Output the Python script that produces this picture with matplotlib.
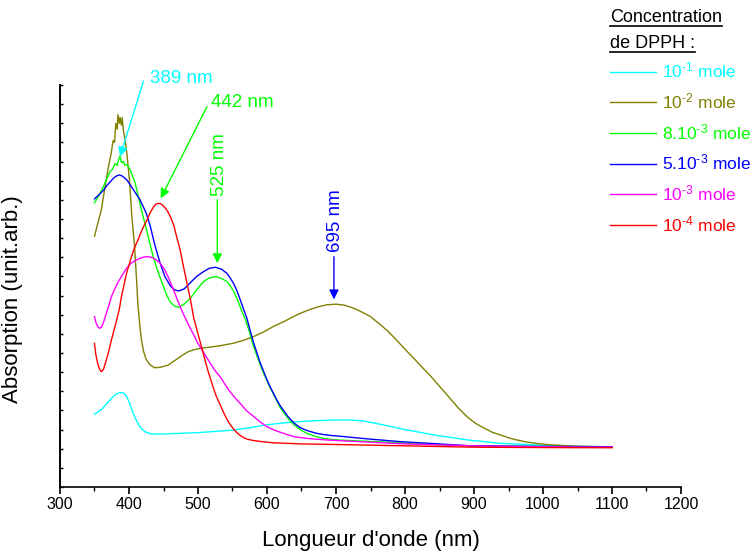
import matplotlib
matplotlib.use('Agg')
import matplotlib.pyplot as plt
from matplotlib.lines import Line2D
from matplotlib.ticker import MultipleLocator

plt.rcParams['font.family'] = ['Liberation Sans', 'DejaVu Sans']
plt.rcParams['mathtext.fontset'] = 'custom'
plt.rcParams['mathtext.rm'] = 'Liberation Sans'
plt.rcParams['mathtext.it'] = 'Liberation Sans:italic'

# absorption spectra (arbitrary units)
wl_1m = [350, 355, 360, 364, 368, 373, 378, 382, 387, 391, 394, 397, 400, 403, 406, 409, 412,
         415, 418, 422, 426, 430, 435, 450, 500, 550, 575, 600, 625, 650, 675, 700, 720, 740,
         769, 800, 842, 890, 939, 987, 1050, 1100]
ab_1m = [3.80, 3.92, 4.05, 4.20, 4.37, 4.57, 4.75, 4.87, 4.93, 4.92, 4.85, 4.70, 4.45, 4.15, 3.85, 3.60, 3.40,
         3.20, 3.05, 2.93, 2.84, 2.80, 2.77, 2.77, 2.84, 2.97, 3.10, 3.25, 3.35, 3.42, 3.47, 3.50, 3.50, 3.45,
         3.24, 3.00, 2.72, 2.46, 2.28, 2.20, 2.12, 2.10]

wl_2m = [350, 355, 360, 365, 370, 374, 377, 379, 381, 383, 384, 386, 387, 389, 390, 392, 394,
         397, 401, 404, 408, 411, 413, 416, 418, 421, 425, 430, 437, 445, 457, 464, 471, 478,
         486, 495, 505, 520, 535, 550, 565, 580, 595, 610, 625, 638, 650, 662, 675, 687, 700,
         712, 725, 737, 750, 762, 775, 787, 800, 812, 825, 837, 854, 866, 878, 890, 902, 915,
         927, 940, 952, 963, 976, 990, 1011, 1050, 1100]
ab_2m = [13.1, 13.8, 14.5, 15.6, 16.7, 17.4, 18.1, 18.0, 19.0, 18.7, 19.45, 19.0, 19.3, 18.9, 19.3, 18.6, 18.2,
         17.4, 15.9, 14.2, 12.6, 10.8, 9.5, 8.3, 7.7, 7.1, 6.65, 6.4, 6.23, 6.25, 6.37, 6.55, 6.72, 6.9,
         7.07, 7.18, 7.25, 7.32, 7.4, 7.5, 7.65, 7.85, 8.1, 8.4, 8.65, 8.9, 9.1, 9.27, 9.42, 9.52, 9.55,
         9.5, 9.35, 9.15, 8.9, 8.55, 8.15, 7.7, 7.2, 6.75, 6.25, 5.8, 5.1, 4.6, 4.1, 3.67, 3.33, 3.07,
         2.85, 2.70, 2.55, 2.45, 2.35, 2.28, 2.20, 2.13, 2.10]

wl_8m = [350, 356, 363, 368, 372, 376, 380, 383, 385, 387, 389, 392, 394, 397, 402, 409, 416,
         420, 425, 430, 435, 440, 445, 450, 455, 460, 466, 472, 480, 489, 498, 508, 517, 526,
         534, 542, 547, 552, 557, 561, 565, 569, 575, 580, 585, 590, 595, 600, 605, 610, 615,
         619, 625, 630, 635, 639, 648, 658, 670, 680, 693, 706, 750, 800, 850, 900, 1000, 1100]
ab_8m = [14.85, 15.2, 15.7, 16.1, 16.45, 16.6, 16.9, 16.8, 17.1, 17.3, 16.95, 17.0, 16.8, 16.85, 16.55, 15.87, 14.8,
         14.2, 13.5, 12.75, 12.05, 11.45, 10.95, 10.46, 10.0, 9.65, 9.45, 9.39, 9.55, 9.86, 10.3, 10.73, 10.93, 10.99,
         10.9, 10.73, 10.5, 10.2, 9.8, 9.42, 9.05, 8.73, 8.05, 7.4, 6.9, 6.4, 5.95, 5.55, 5.15, 4.8, 4.45,
         4.15, 3.85, 3.6, 3.4, 3.25, 3.0, 2.8, 2.65, 2.55, 2.49, 2.45, 2.38, 2.30, 2.20, 2.15, 2.12, 2.10]

wl_5m = [350, 356, 363, 368, 373, 378, 382, 386, 390, 397, 406, 416, 425, 431, 437, 441, 445,
         452, 460, 466, 472, 480, 488, 498, 508, 516, 525, 534, 542, 547, 552, 557, 561, 566,
         571, 575, 580, 585, 590, 595, 600, 605, 610, 615, 619, 625, 630, 635, 639, 648, 658,
         670, 680, 693, 706, 750, 793, 850, 890, 950, 1000, 1100]
ab_5m = [15.05, 15.25, 15.5, 15.75, 15.95, 16.15, 16.25, 16.3, 16.25, 16.04, 15.55, 15.0, 14.3, 13.6, 12.7, 12.2, 11.7,
         11.0, 10.5, 10.3, 10.24, 10.35, 10.64, 11.0, 11.25, 11.42, 11.48, 11.38, 11.16, 10.9, 10.6, 10.2, 9.8, 9.3,
         8.8, 8.25, 7.6, 7.05, 6.5, 6.05, 5.6, 5.2, 4.85, 4.5, 4.25, 3.95, 3.7, 3.5, 3.35, 3.1, 2.95,
         2.82, 2.75, 2.69, 2.65, 2.50, 2.37, 2.25, 2.16, 2.13, 2.12, 2.10]

wl_1mm = [350, 352, 355, 357.5, 360, 363, 367, 371, 374.5, 380, 385, 389, 396, 403, 410, 416, 422,
          428, 434, 440, 445, 451, 457, 464, 471, 478, 486, 493, 500, 506, 512, 518, 524, 532,
          539, 546, 553, 561, 570, 580, 590, 600, 610, 620, 630, 639, 655, 670, 690, 706, 800,
          900, 1000, 1100]
ab_1mm = [8.9, 8.6, 8.35, 8.29, 8.35, 8.6, 9.05, 9.5, 9.94, 10.4, 10.75, 10.99, 11.4, 11.69, 11.85, 11.95, 12.02,
          12.03, 11.98, 11.85, 11.69, 11.4, 10.95, 10.35, 9.7, 9.1, 8.5, 8.0, 7.5, 7.15, 6.8, 6.45, 6.11, 5.76,
          5.37, 5.0, 4.68, 4.37, 4.0, 3.7, 3.4, 3.15, 2.98, 2.85, 2.73, 2.63, 2.55, 2.50, 2.45, 2.42, 2.25,
          2.15, 2.10, 2.08]

wl_01m = [350, 352, 355, 358, 360, 363, 366, 370, 374.5, 378, 382, 386, 389, 396, 403.5, 408, 413,
          419, 426, 431, 435, 439, 443, 447, 452, 456, 460, 465, 469, 474, 479, 484, 489, 494,
          500, 506, 510, 515, 519, 523, 527, 532, 537, 541, 546, 551, 556, 561, 566, 571, 580,
          590, 609, 650, 700, 800, 900, 1000, 1100]
ab_01m = [7.5, 6.9, 6.4, 6.1, 6.03, 6.15, 6.5, 7.0, 7.68, 8.15, 8.7, 9.3, 9.94, 11.1, 12.03, 12.5, 12.9,
          13.45, 13.95, 14.35, 14.6, 14.78, 14.82, 14.78, 14.6, 14.4, 14.12, 13.65, 13.08, 12.4, 11.51, 10.65, 9.8, 8.8,
          8.0, 7.2, 6.65, 6.0, 5.55, 5.1, 4.7, 4.3, 3.9, 3.6, 3.3, 3.05, 2.85, 2.7, 2.58, 2.5, 2.43,
          2.38, 2.31, 2.25, 2.22, 2.15, 2.08, 2.06, 2.05]

labels = [r'10$^{\text{-1}}$ mole', r'10$^{\text{-2}}$ mole', r'8.10$^{\text{-3}}$ mole',
          r'5.10$^{\text{-3}}$ mole', r'10$^{\text{-3}}$ mole', r'10$^{\text{-4}}$ mole']
colors = ['#00FFFF', '#808000', '#00FF00', '#0000FF', '#FF00FF', '#FF0000']

fig = plt.figure(figsize=(7.55, 5.56), dpi=100)
ax = fig.add_axes([60 / 755, 69 / 556, 621 / 755, 402 / 556])

series = [(wl_1m, ab_1m), (wl_2m, ab_2m), (wl_8m, ab_8m),
          (wl_5m, ab_5m), (wl_1mm, ab_1mm), (wl_01m, ab_01m)]
handles = []
for (x, y), c in zip(series, colors):
    h, = ax.plot(x, y, color=c, lw=1.0)
    handles.append(h)

ax.set_xlim(300, 1200)
ax.set_ylim(0, 21)
ax.spines['top'].set_visible(False)
ax.spines['right'].set_visible(False)
ax.spines['left'].set_linewidth(1.4)
ax.spines['bottom'].set_linewidth(1.2)
ax.xaxis.set_major_locator(MultipleLocator(100))
ax.xaxis.set_minor_locator(MultipleLocator(50))
ax.yaxis.set_major_locator(MultipleLocator(1))
ax.tick_params(axis='x', which='major', direction='out', length=5, width=1.2, labelsize=11.5, pad=2)
ax.tick_params(axis='x', which='minor', direction='out', length=3, width=1.0)
ax.tick_params(axis='y', which='major', direction='in', length=2.5, width=1.0, labelleft=False)
ax.set_xlabel("Longueur d'onde (nm)", fontsize=16, labelpad=13)
ax.set_ylabel("Absorption (unit.arb.)", fontsize=16)
ax.yaxis.set_label_coords(-0.0596, 0.468)

# peak annotations
arrow = dict(arrowstyle='-|>', lw=1, mutation_scale=14, shrinkA=0, shrinkB=0)
ax.annotate('', xy=(387, 17.26), xytext=(421, 21.2), annotation_clip=False,
            arrowprops=dict(arrow, color='#00FFFF'))
ax.text(431, 21.35, '389 nm', color='#00FFFF', ha='left', va='center', fontsize=13.5, clip_on=False)
ax.annotate('', xy=(446, 15.08), xytext=(513, 19.87), annotation_clip=False,
            arrowprops=dict(arrow, color='#00FF00'))
ax.text(519, 20.1, '442 nm', color='#00FF00', ha='left', va='center', fontsize=13.5)
ax.annotate('', xy=(528, 11.69), xytext=(528, 15.0), annotation_clip=False,
            arrowprops=dict(arrow, color='#00FF00'))
ax.text(531, 16.82, '525 nm', color='#00FF00', ha='center', va='center', rotation=90, fontsize=13.5)
ax.annotate('', xy=(697, 9.8), xytext=(697, 12.03), annotation_clip=False,
            arrowprops=dict(arrow, color='#0000FF'))
ax.text(700, 13.9, '695 nm', color='#0000FF', ha='center', va='center', rotation=90, fontsize=13.5)

# legend
t1 = fig.text(610 / 755, 1 - 17 / 556, 'Concentration', fontsize=13, ha='left', va='center')
t2 = fig.text(610 / 755, 1 - 43 / 556, 'de DPPH :', fontsize=13, ha='left', va='center')
fig.canvas.draw()
for t in (t1, t2):
    bb = t.get_window_extent().transformed(fig.transFigure.inverted())
    fig.add_artist(Line2D([bb.x0, bb.x1], [bb.y0, bb.y0],
                          transform=fig.transFigure, color='black', lw=1.2))

ax.legend(handles, labels, loc='upper left', bbox_to_anchor=(610 / 755, 1 - 61 / 556),
          bbox_transform=fig.transFigure, frameon=False, fontsize=12.5,
          handlelength=2.65, handletextpad=0.35, labelspacing=0.62,
          borderpad=0, borderaxespad=0, labelcolor='linecolor')

fig.savefig('out.png', dpi=100)
